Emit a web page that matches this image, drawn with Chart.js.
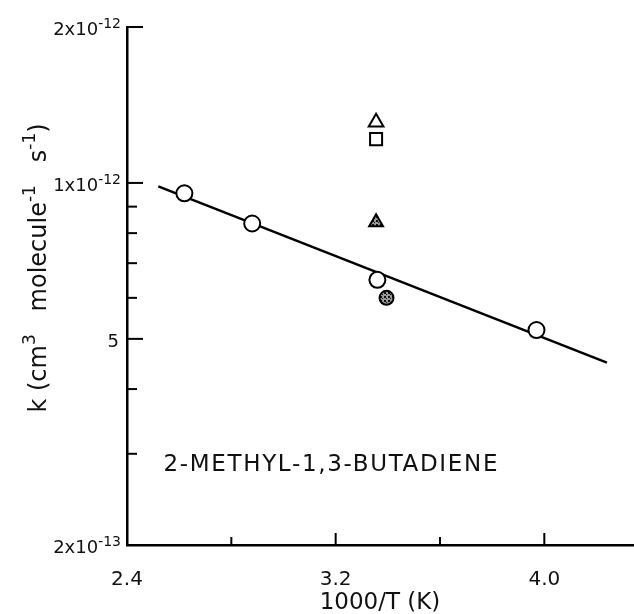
<!DOCTYPE html>
<html>
<head>
<meta charset="utf-8">
<script src="https://cdn.jsdelivr.net/npm/chart.js@4.4.0/dist/chart.umd.min.js"></script>
<style>
  html, body { margin: 0; padding: 0; background: #fff; }
  #wrap { width: 634px; height: 614px; }
</style>
</head>
<body>
<div id="wrap"><canvas id="rateChart" width="634" height="614"></canvas></div>
<script>
// 2-methyl-1,3-butadiene: k vs 1000/T
const measuredX = [2.62, 2.88, 3.36, 3.97];
const measuredK = [9.55e-13, 8.35e-13, 6.5e-13, 5.2e-13];

const fitX = [2.52, 4.24];
const fitK = [9.85e-13, 4.5e-13];

// other studies near room temperature
const openTriX = [3.355];
const openTriK = [1.31e-12];
const squareX = [3.355];
const squareK = [1.215e-12];
const hatchTriX = [3.355];
const hatchTriK = [8.4e-13];
const hatchCircX = [3.395];
const hatchCircK = [6.0e-13];

const xTicks = [2.4, 2.8, 3.2, 3.6, 4.0];
const xLabels = { 2.4: '2.4', 3.2: '3.2', 4.0: '4.0' };
const yTicks = [2e-13, 3e-13, 4e-13, 5e-13, 6e-13, 7e-13, 8e-13, 9e-13, 1e-12, 2e-12];
// [mantissa text, exponent text]
const yLabels = { 2e-13: ['2x10', '-13'], 5e-13: ['5', ''], 1e-12: ['1x10', '-12'], 2e-12: ['2x10', '-12'] };

const compoundName = '2-METHYL-1,3-BUTADIENE';
const yTitleParts = [['k (cm', 0], ['3', 1], ['   molecule', 0], ['-1', 1], ['   s', 0], ['-1', 1], [')', 0]];

const FONT = '"DejaVu Sans", sans-serif';
const toPts = (xs, ys) => xs.map((x, i) => ({ x: x, y: ys[i] }));

// hatch-like fill for the shaded symbols
function makeHatch() {
    const c = document.createElement('canvas');
    c.width = 4; c.height = 4;
    const g = c.getContext('2d');
    g.fillStyle = '#999';
    g.fillRect(0, 0, 4, 4);
    g.fillStyle = '#111';
    g.fillRect(0, 0, 2, 2);
    g.fillRect(2, 2, 1, 1);
    return g.createPattern(c, 'repeat');
}
const ctx = document.getElementById('rateChart').getContext('2d');
const hatch = makeHatch();

// inward tick marks, y labels with superscripts, y title, compound name
const axisDecor = {
    id: 'axisDecor',
    afterDraw(chart) {
        const c = chart.ctx;
        const xs = chart.scales.x, ys = chart.scales.y;
        const area = chart.chartArea;
        c.save();
        c.strokeStyle = '#000';
        c.lineWidth = 2;
        xTicks.forEach(v => {
            if (v === xTicks[0]) return;
            const px = xs.getPixelForValue(v);
            const len = xLabels[v] ? 12 : 8;
            c.beginPath();
            c.moveTo(px, area.bottom);
            c.lineTo(px, area.bottom - len);
            c.stroke();
        });
        yTicks.forEach(v => {
            const py = ys.getPixelForValue(v);
            if (v !== yTicks[0]) {
                const len = yLabels[v] ? 16 : 10;
                c.beginPath();
                c.moveTo(area.left, py);
                c.lineTo(area.left + len, py);
                c.stroke();
            }
            const lab = yLabels[v];
            if (!lab) return;
            c.fillStyle = '#111';
            c.textBaseline = 'alphabetic';
            c.textAlign = 'left';
            c.font = '18px ' + FONT;
            const wm = c.measureText(lab[0]).width;
            c.font = '14px ' + FONT;
            const we = lab[1] ? c.measureText(lab[1]).width : 0;
            const right = area.left - (lab[1] ? 6 : 8);
            const x0 = right - we - wm;
            c.font = '18px ' + FONT;
            c.fillText(lab[0], x0, py + 8);
            if (lab[1]) {
                c.font = '14px ' + FONT;
                c.fillText(lab[1], x0 + wm, py + 1);
            }
        });
        // rotated y title
        c.save();
        c.translate(46, 268);
        c.rotate(-Math.PI / 2);
        c.fillStyle = '#111';
        let total = 0;
        yTitleParts.forEach(p => {
            c.font = (p[1] ? '17px ' : '24px ') + FONT;
            total += c.measureText(p[0]).width;
        });
        let tx = -total / 2;
        yTitleParts.forEach(p => {
            c.font = (p[1] ? '17px ' : '24px ') + FONT;
            c.fillText(p[0], tx, p[1] ? -11 : 0);
            tx += c.measureText(p[0]).width;
        });
        c.restore();
        // compound name
        c.fillStyle = '#111';
        c.font = '23px ' + FONT;
        c.textAlign = 'left';
        c.textBaseline = 'middle';
        c.letterSpacing = '0px';
        const w0 = c.measureText(compoundName).width;
        const spacing = Math.max(0, (334 - w0) / (compoundName.length - 1));
        c.letterSpacing = spacing + 'px';
        const cx = xs.getPixelForValue(3.18);
        const cy = ys.getPixelForValue(2.85e-13);
        c.fillText(compoundName, cx - 167, cy);
        c.restore();
    }
};

const rateChart = new Chart(ctx, {
    type: 'scatter',
    data: {
        datasets: [
            {
                label: 'fit',
                data: toPts(fitX, fitK),
                showLine: true,
                borderColor: '#000',
                borderWidth: 2.5,
                pointRadius: 0,
                order: 5
            },
            {
                label: 'this work',
                data: toPts(measuredX, measuredK),
                pointStyle: 'circle',
                pointRadius: 8,
                backgroundColor: '#fff',
                borderColor: '#000',
                borderWidth: 2,
                order: 1
            },
            {
                label: 'open triangle',
                data: toPts(openTriX, openTriK),
                pointStyle: 'triangle',
                pointRadius: 8.5,
                backgroundColor: '#fff',
                borderColor: '#000',
                borderWidth: 2,
                order: 1
            },
            {
                label: 'square',
                data: toPts(squareX, squareK),
                pointStyle: 'rect',
                pointRadius: 8.5,
                backgroundColor: '#fff',
                borderColor: '#000',
                borderWidth: 2,
                order: 1
            },
            {
                label: 'shaded triangle',
                data: toPts(hatchTriX, hatchTriK),
                pointStyle: 'triangle',
                pointRadius: 8,
                backgroundColor: hatch,
                borderColor: '#000',
                borderWidth: 2,
                order: 1
            },
            {
                label: 'shaded circle',
                data: toPts(hatchCircX, hatchCircK),
                pointStyle: 'circle',
                pointRadius: 7,
                backgroundColor: hatch,
                borderColor: '#000',
                borderWidth: 2,
                order: 1
            }
        ]
    },
    options: {
        responsive: false,
        animation: false,
        layout: { autoPadding: false, padding: { top: 27, right: 1, left: 0, bottom: 0 } },
        plugins: {
            legend: { display: false },
            tooltip: { enabled: false }
        },
        scales: {
            x: {
                type: 'linear',
                min: 2.4,
                max: 4.34,
                afterBuildTicks: (scale) => { scale.ticks = xTicks.map(v => ({ value: v })); },
                afterFit: (scale) => { scale.height = 69; scale.paddingRight = 0; scale.paddingLeft = 0; },
                grid: { display: false, drawTicks: false },
                border: { display: true, color: '#000', width: 2.5 },
                ticks: {
                    autoSkip: false,
                    maxRotation: 0,
                    padding: 23,
                    color: '#111',
                    font: { family: FONT, size: 20 },
                    callback: (v) => xLabels[v] || ''
                },
                title: {
                    display: true,
                    text: '1000/T (K)',
                    color: '#111',
                    padding: { top: 0, bottom: -3 },
                    font: { family: FONT, size: 23 }
                }
            },
            y: {
                type: 'logarithmic',
                min: 2e-13,
                max: 2e-12,
                afterBuildTicks: (scale) => { scale.ticks = yTicks.map(v => ({ value: v })); },
                afterFit: (scale) => { scale.width = 127; },
                grid: { display: false, drawTicks: false },
                border: { display: true, color: '#000', width: 2.5 },
                ticks: {
                    autoSkip: false,
                    callback: () => ''
                }
            }
        }
    },
    plugins: [axisDecor]
});
</script>
</body>
</html>
